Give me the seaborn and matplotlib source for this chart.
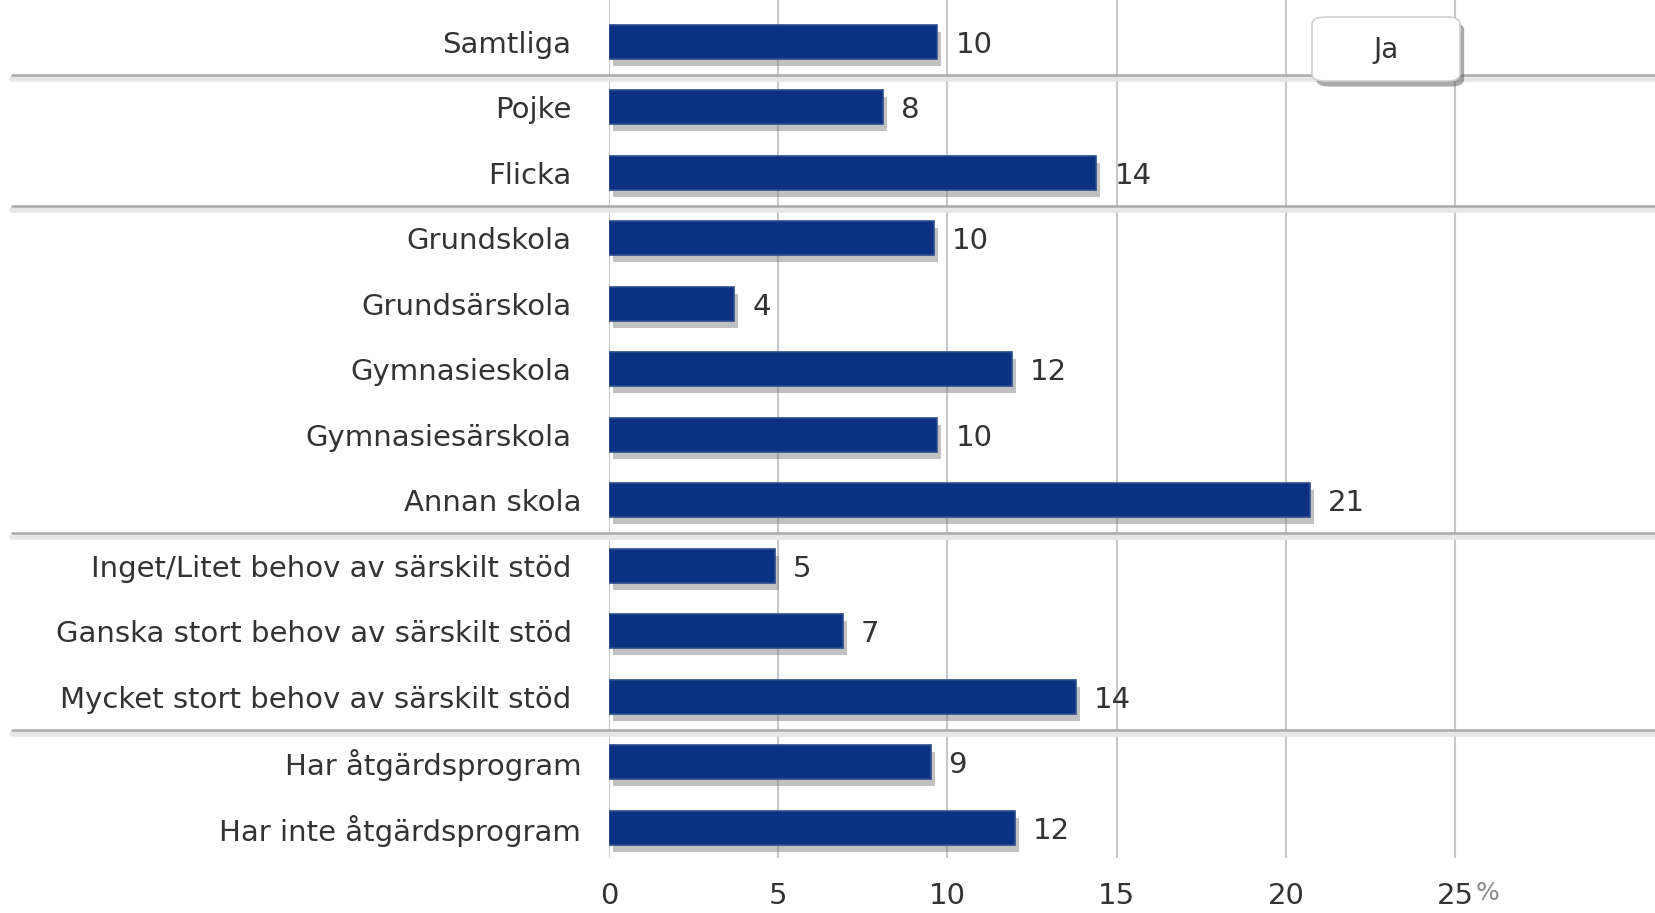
import matplotlib.pyplot as plt
import matplotlib.patheffects as pe
from matplotlib.patches import FancyBboxPatch
from matplotlib.transforms import blended_transform_factory
import seaborn as sns
import numpy as np
import pandas as pd

sns.set_theme(style="white")
plt.rcParams["font.family"] = ["DejaVu Sans"]

# Data
categories = [
    "Samtliga",
    "Pojke", "Flicka",
    "Grundskola", "Grundsärskola", "Gymnasieskola", "Gymnasiesärskola", "Annan skola",
    "Inget/Litet behov av särskilt stöd", "Ganska stort behov av särskilt stöd",
    "Mycket stort behov av särskilt stöd",
    "Har åtgärdsprogram", "Har inte åtgärdsprogram",
]
values = [9.7, 8.1, 14.4, 9.6, 3.7, 11.9, 9.7, 20.7, 4.9, 6.9, 13.8, 9.5, 12.0]
value_labels = ["10", "8", "14", "10", "4", "12", "10", "21", "5", "7", "14", "9", "12"]
group_sizes = [1, 2, 5, 3, 2]
x_ticks = [0, 5, 10, 15, 20, 25]
legend_label = "Ja"

df = pd.DataFrame({"kategori": categories, "andel": values})

text_color = "#333333"
bar_color = "#0b3282"
fs = 21

fig = plt.figure(figsize=(16.56, 9.13), dpi=100)
ax = fig.add_axes([0.3678, 0.0602, 0.6322, 0.9398])

sns.barplot(data=df, x="andel", y="kategori", orient="h", width=0.52,
            color=bar_color, saturation=1, edgecolor="#2a4c90", linewidth=1.2, ax=ax)

for p in ax.patches:
    p.set_path_effects([pe.SimplePatchShadow(offset=(3, -5), shadow_rgbFace="#777777", alpha=0.45),
                        pe.Normal()])

texts = ax.bar_label(ax.containers[0], labels=value_labels, padding=13, fontsize=fs, color=text_color)
for t in texts:
    t.xyann = (13, -2)

ax.set_xlim(0, 30.94)
ax.set_ylim(12.46, -0.64)
ax.set_xticks(x_ticks)
ax.set_xticklabels([str(t) for t in x_ticks])
ax.xaxis.grid(True, color="#c8c8c8", linewidth=1.5)
ax.yaxis.grid(False)
ax.set_axisbelow(True)
for s in ax.spines.values():
    s.set_visible(False)
ax.set_xlabel("")
ax.set_ylabel("")
ax.tick_params(axis="x", length=0, pad=17, labelsize=fs, labelcolor=text_color)
ax.tick_params(axis="y", length=0, labelsize=fs, labelcolor=text_color)

# per-label padding (some labels sit closer to the axis)
for i, tick in enumerate(ax.yaxis.get_major_ticks()):
    if categories[i] in ("Annan skola", "Har åtgärdsprogram", "Har inte åtgärdsprogram"):
        tick.set_pad(20)
    else:
        tick.set_pad(27)

# "%" after the last tick label
ax.annotate("%", xy=(25, 0), xycoords=ax.get_xaxis_transform(), xytext=(15, -25),
            textcoords="offset points", ha="left", va="center", fontsize=18, color="#8a8a8a")

# group separators spanning the whole figure width
trans = blended_transform_factory(fig.transFigure, ax.transData)
seps = np.cumsum(group_sizes)[:-1] - 0.5
for y in seps:
    ax.plot([0.007, 1.0], [y + 0.06, y + 0.06], transform=trans, color="#e6e6e6",
            linewidth=4, clip_on=False, zorder=1)
    ax.plot([0.007, 1.0], [y, y], transform=trans, color="#aaaaaa",
            linewidth=1.8, clip_on=False, zorder=1)

# legend-like box with "Ja"
box = FancyBboxPatch((1312 / 1656, 1 - 81 / 913), 148 / 1656, 64 / 913,
                     boxstyle="round,pad=0.0,rounding_size=0.008",
                     transform=fig.transFigure, facecolor="white", edgecolor="#d0d0d0",
                     linewidth=1.2, zorder=5,
                     path_effects=[pe.SimplePatchShadow(offset=(3, -4), shadow_rgbFace="#555555",
                                                        alpha=0.5), pe.Normal()])
fig.patches.append(box)
fig.text(1386 / 1656, 1 - 50 / 913, legend_label, ha="center", va="center",
         fontsize=20, color=text_color, zorder=6)

fig.savefig("out.png", dpi=100)
